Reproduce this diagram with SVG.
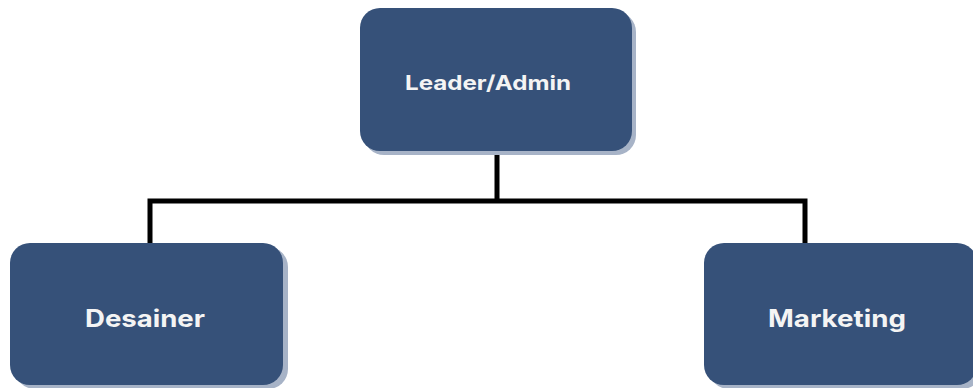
<svg xmlns="http://www.w3.org/2000/svg" width="973" height="388" viewBox="0 0 973 388">
<style>
.shadow{fill:#a7b3c7}
.box{fill:#365179}
.lbl{font-family:Inter,"Open Sans","Liberation Sans",sans-serif;font-weight:700;fill:#f4f4f4;text-anchor:middle;dominant-baseline:central}
.conn{fill:none;stroke:#000;stroke-width:5;stroke-linejoin:miter}
</style>
<rect width="973" height="388" fill="#ffffff"/>
<g id="connectors">
<path class="conn" d="M497 151 V201 M150 243 V201 H805 V243"/>
</g>
<g id="leader">
<rect class="shadow" x="364" y="12" width="272" height="143" rx="20"/>
<rect class="box" x="360" y="8" width="272" height="143" rx="20"/>
<text class="lbl" x="488" y="83" font-size="20" textLength="166" lengthAdjust="spacingAndGlyphs">Leader/Admin</text>
</g>
<g id="desainer">
<rect class="shadow" x="15" y="247" width="273" height="142" rx="20"/>
<rect class="box" x="10" y="243" width="273" height="142" rx="20"/>
<text class="lbl" x="145" y="318" font-size="24" textLength="120" lengthAdjust="spacingAndGlyphs">Desainer</text>
</g>
<g id="marketing">
<rect class="shadow" x="709" y="247" width="273" height="142" rx="20"/>
<rect class="box" x="704" y="243" width="273" height="142" rx="20"/>
<text class="lbl" x="837" y="318" font-size="24" textLength="138" lengthAdjust="spacingAndGlyphs">Marketing</text>
</g>
</svg>
